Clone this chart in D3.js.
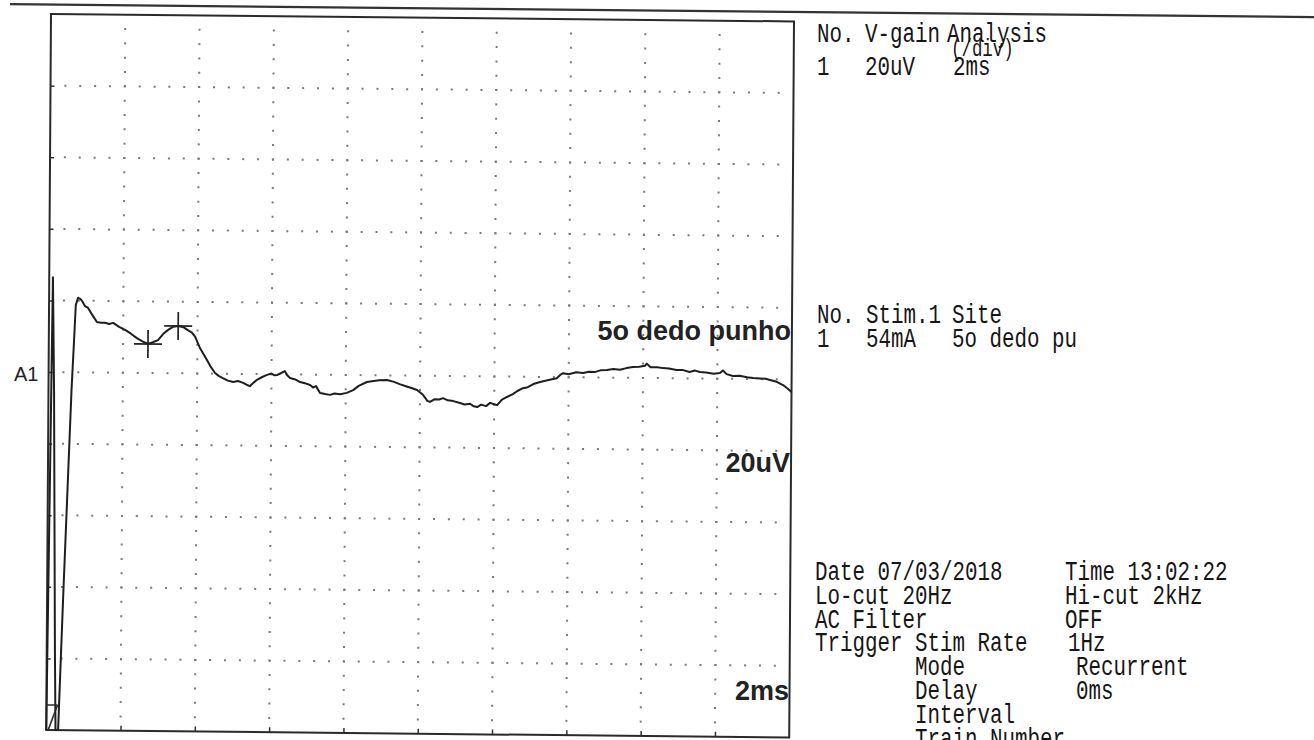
<!DOCTYPE html>
<html>
<head>
<meta charset="utf-8">
<script src="https://cdn.jsdelivr.net/npm/d3@7"></script>
<style>
  html, body { margin: 0; padding: 0; background: #fff; }
  svg { display: block; }
</style>
</head>
<body>
<svg id="chart" width="1314" height="740"></svg>
<script>
// ---- Sweep A1: time (ms) and amplitude (uV) ----
const traceTime = [
  0.00, 0.10, 0.15, 0.22, 0.25, 0.32, 0.43, 0.62, 0.68, 0.72, 0.78, 0.84, 0.89, 0.97, 1.05,
  1.17, 1.29, 1.40, 1.51, 1.62, 1.73, 1.89, 2.05, 2.20, 2.37, 2.52, 2.67, 2.80, 2.94, 3.08,
  3.21, 3.35, 3.48, 3.62, 3.74, 3.85, 3.94, 4.07, 4.16, 4.26, 4.37, 4.48, 4.58, 4.69, 4.83,
  4.97, 5.10, 5.24, 5.33, 5.42, 5.50, 5.61, 5.75, 5.88, 6.00, 6.08, 6.15, 6.25, 6.36, 6.43,
  6.50, 6.64, 6.77, 6.90, 7.04, 7.12, 7.20, 7.31, 7.45, 7.58, 7.70, 7.85, 8.03, 8.20, 8.35,
  8.57, 8.75, 8.90, 9.11, 9.30, 9.45, 9.60, 9.75, 9.92, 10.08, 10.20, 10.27, 10.40, 10.52, 10.62,
  10.75, 10.90, 11.08, 11.20, 11.35, 11.45, 11.54, 11.65, 11.78, 11.89, 11.98, 12.08, 12.20, 12.34, 12.50,
  12.62, 12.77, 12.90, 13.05, 13.23, 13.40, 13.55, 13.68, 13.77, 13.85, 14.00, 14.20, 14.38, 14.55, 14.70,
  14.85, 15.03, 15.20, 15.38, 15.55, 15.73, 15.90, 16.05, 16.10, 16.20, 16.38, 16.54, 16.70, 16.90, 17.08,
  17.25, 17.40, 17.53, 17.70, 17.90, 18.07, 18.15, 18.25, 18.42, 18.60, 18.80, 18.96, 19.15, 19.30, 19.42,
  19.60, 19.77, 19.90, 20.00
];
const traceMicroV = [
  -100, 26.5, -5.0, -77.6, -100, -100, -63.6, -5.0, 9.0, 18.8, 20.8, 20.5, 19.9, 18.5, 18.0,
  16.0, 14.1, 13.9, 13.9, 13.6, 13.9, 12.8, 12.0, 11.0, 9.7, 8.8, 8.1, 8.6, 9.2, 11.0,
  12.1, 13.0, 13.2, 12.9, 12.1, 11.4, 10.2, 7.1, 5.5, 3.8, 1.8, 0.2, -0.6, -1.2, -1.9,
  -2.3, -2.0, -2.5, -3.0, -3.4, -2.6, -1.6, -0.8, -0.2, 0.2, -0.3, -0.2, 0.3, 0.9, -0.3,
  -1.0, -1.4, -2.1, -2.4, -2.9, -3.6, -3.2, -5.1, -5.4, -5.6, -5.2, -5.4, -5.0, -4.2, -3.0,
  -1.9, -1.6, -1.4, -1.3, -1.8, -2.4, -2.9, -3.4, -4.0, -5.3, -7.0, -7.3, -6.5, -6.6, -6.2,
  -6.8, -7.0, -7.5, -7.9, -7.7, -8.4, -8.6, -7.9, -8.3, -7.4, -7.7, -8.0, -6.5, -5.7, -4.9,
  -4.0, -3.2, -2.9, -2.0, -1.4, -1.0, -0.6, -0.3, 0.6, 1.1, 0.8, 1.4, 1.2, 1.6, 1.5,
  2.0, 2.1, 2.4, 2.2, 2.7, 3.0, 3.1, 3.4, 4.0, 3.0, 3.0, 2.8, 2.7, 2.3, 2.3,
  1.8, 2.2, 1.8, 1.7, 1.4, 1.6, 2.3, 1.3, 0.8, 0.9, 0.5, 0.3, 0.2, 0.1, -0.2,
  -0.7, -1.6, -2.6, -3.5
];

// Latency cursors placed on the sweep
const cursorTime = [2.67, 3.48];
const cursorMicroV = [8.1, 13.2];

// Stimulus onset marker span (ms) and level (uV)
const stimMarkTime = [0, 0.3];
const stimMarkMicroV = -93;

// Display settings: 2 ms/div, 20 uV/div, 10 x 10 divisions
const timeDomain = [0, 20];
const voltDomain = [-100, 100];
const timeTicks = [2, 4, 6, 8, 10, 12, 14, 16, 18];
const voltTicks = [-80, -60, -40, -20, 0, 20, 40, 60, 80];

// Labels inside the trace window
const channelLabel = "A1";
const siteLabel = "5o dedo punho";
const gainLabel = "20uV";
const sweepLabel = "2ms";

// Report text on the right
const gainTable = [
  ["No.", "V-gain", "Analysis"],
  ["", "", "(/div)"],
  ["1", "20uV", "2ms"]
];
const stimTable = [
  ["No.", "Stim.1", "Site"],
  ["1", "54mA", "5o dedo pu"]
];
const recordInfo = [
  ["Date 07/03/2018", "", "Time 13:02:22"],
  ["Lo-cut 20Hz", "", "Hi-cut 2kHz"],
  ["AC Filter", "", "OFF"],
  ["Trigger", "Stim Rate", "1Hz"],
  ["", "Mode", "Recurrent"],
  ["", "Delay", "0ms"],
  ["", "Interval", ""],
  ["", "Train Number", ""]
];

// ---- drawing ----
const svg = d3.select("#chart");
svg.append("rect").attr("width", 1314).attr("height", 740).attr("fill", "#ffffff");

const plotLeft = 51, plotTop = 14, plotW = 743, plotH = 716;
const xS = d3.scaleLinear().domain(timeDomain).range([plotLeft, plotLeft + plotW]);
const yS = d3.scaleLinear().domain(voltDomain).range([plotTop + plotH, plotTop]);

// printed sheet sits slightly skewed
const sheet = svg.append("g")
  .attr("transform", `translate(${plotLeft},${plotTop}) matrix(1,0.0100,-0.0067,1,0,0) translate(${-plotLeft},${-plotTop})`);

// header rule across the page
sheet.append("line")
  .attr("x1", 10).attr("x2", 1340).attr("y1", 4.5).attr("y2", 4.5)
  .attr("stroke", "#333").attr("stroke-width", 2.2);

// dotted grid: 5 dots per division
const dotColor = "#7a7a7a";
const gridDots = sheet.append("g").attr("fill", dotColor);
const vSteps = d3.range(1, 50).map(k => voltDomain[0] + k * 4);
const tSteps = d3.range(1, 50).map(k => timeDomain[0] + k * 0.4);
timeTicks.forEach(t => {
  vSteps.forEach(v => {
    gridDots.append("rect")
      .attr("x", xS(t) - 1).attr("y", yS(v) - 1)
      .attr("width", 2).attr("height", 2);
  });
});
voltTicks.forEach(v => {
  tSteps.forEach(t => {
    gridDots.append("rect")
      .attr("x", xS(t) - 1).attr("y", yS(v) - 1)
      .attr("width", 2).attr("height", 2);
  });
});

// inner ticks on left and bottom edges
const yAxis = d3.axisLeft(yS).tickValues(voltTicks).tickSizeInner(-4).tickSizeOuter(0).tickFormat("");
const xAxis = d3.axisBottom(xS).tickValues(timeTicks).tickSizeInner(-5).tickSizeOuter(0).tickFormat("");
const gy = sheet.append("g").attr("transform", `translate(${plotLeft},0)`).call(yAxis);
const gx = sheet.append("g").attr("transform", `translate(0,${plotTop + plotH})`).call(xAxis);
[gy, gx].forEach(g => {
  g.select(".domain").remove();
  g.selectAll(".tick line").attr("stroke", "#333").attr("stroke-width", 1.5);
});

// frame
sheet.append("rect")
  .attr("x", plotLeft).attr("y", plotTop).attr("width", plotW).attr("height", plotH)
  .attr("fill", "none").attr("stroke", "#2a2a2a").attr("stroke-width", 2);

// trace
sheet.append("clipPath").attr("id", "win")
  .append("rect").attr("x", plotLeft - 1).attr("y", plotTop - 1).attr("width", plotW + 2).attr("height", plotH + 2);

const line = d3.line().x(d => xS(d[0])).y(d => yS(d[1]));
const traceData = traceTime.map((t, i) => [t, traceMicroV[i]]);
sheet.append("path")
  .attr("clip-path", "url(#win)")
  .attr("d", line(traceData))
  .attr("fill", "none").attr("stroke", "#1e1e1e").attr("stroke-width", 2)
  .attr("stroke-linejoin", "round");

// stimulus onset marker
const sm = sheet.append("g").attr("stroke", "#2a2a2a").attr("stroke-width", 1.6).attr("fill", "none");
sm.append("line")
  .attr("x1", xS(stimMarkTime[0])).attr("x2", xS(stimMarkTime[1]))
  .attr("y1", yS(stimMarkMicroV)).attr("y2", yS(stimMarkMicroV));
sm.append("line")
  .attr("x1", xS(stimMarkTime[0]) + 2).attr("y1", yS(voltDomain[0]))
  .attr("x2", xS(stimMarkTime[1])).attr("y2", yS(stimMarkMicroV));

// cursors
const cursorArm = 14;
cursorTime.forEach((t, i) => {
  const cx = xS(t), cy = yS(cursorMicroV[i]);
  const g = sheet.append("g").attr("stroke", "#222").attr("stroke-width", 1.7);
  g.append("line").attr("x1", cx - cursorArm).attr("x2", cx + cursorArm).attr("y1", cy).attr("y2", cy);
  g.append("line").attr("x1", cx).attr("x2", cx).attr("y1", cy - cursorArm).attr("y2", cy + cursorArm);
});

// labels in the trace window
svg.append("text").attr("x", 14).attr("y", 381)
  .attr("font-family", "Liberation Sans, Arial, sans-serif").attr("font-size", 20)
  .attr("fill", "#222").text(channelLabel);

const boldLabel = (txt, x, y) => svg.append("text")
  .attr("x", x).attr("y", y).attr("text-anchor", "end")
  .attr("font-family", "Liberation Sans, Arial, sans-serif").attr("font-size", 27)
  .attr("font-weight", "bold").attr("fill", "#222").text(txt);
boldLabel(siteLabel, 791, 340);
boldLabel(gainLabel, 790, 472);
boldLabel(sweepLabel, 789, 700);

// report text (narrow fixed-pitch printer face)
const mono = svg.append("g")
  .attr("font-family", "Liberation Mono, DejaVu Sans Mono, monospace")
  .attr("font-size", 27.5).attr("fill", "#161616");
const squeeze = 0.758;
const put = (txt, x, y, size) => {
  if (!txt) return;
  const t = mono.append("text")
    .attr("transform", `translate(${x},${y}) scale(${squeeze},1)`)
    .style("white-space", "pre")
    .text(txt);
  if (size) t.attr("font-size", size);
};

const gainCols = [[817, 865, 947], [817, 865, 951], [817, 865, 953]];
const gainRows = [42, 56, 75];
const gainSizes = [null, 23, null];
gainTable.forEach((row, r) => row.forEach((s, c) => put(s, gainCols[r][c], gainRows[r], gainSizes[r])));

const stimCols = [817, 866, 952];
const stimRows = [323, 347];
stimTable.forEach((row, r) => row.forEach((s, c) => put(s, stimCols[c], stimRows[r])));

const infoCol3 = [1065, 1065, 1065, 1068, 1076, 1076, 1076, 1076];
recordInfo.forEach((row, r) => {
  const y = 580 + r * 23.8;
  put(row[0], 815, y);
  put(row[1], 915, y);
  put(row[2], infoCol3[r], y);
});
</script>
</body>
</html>
